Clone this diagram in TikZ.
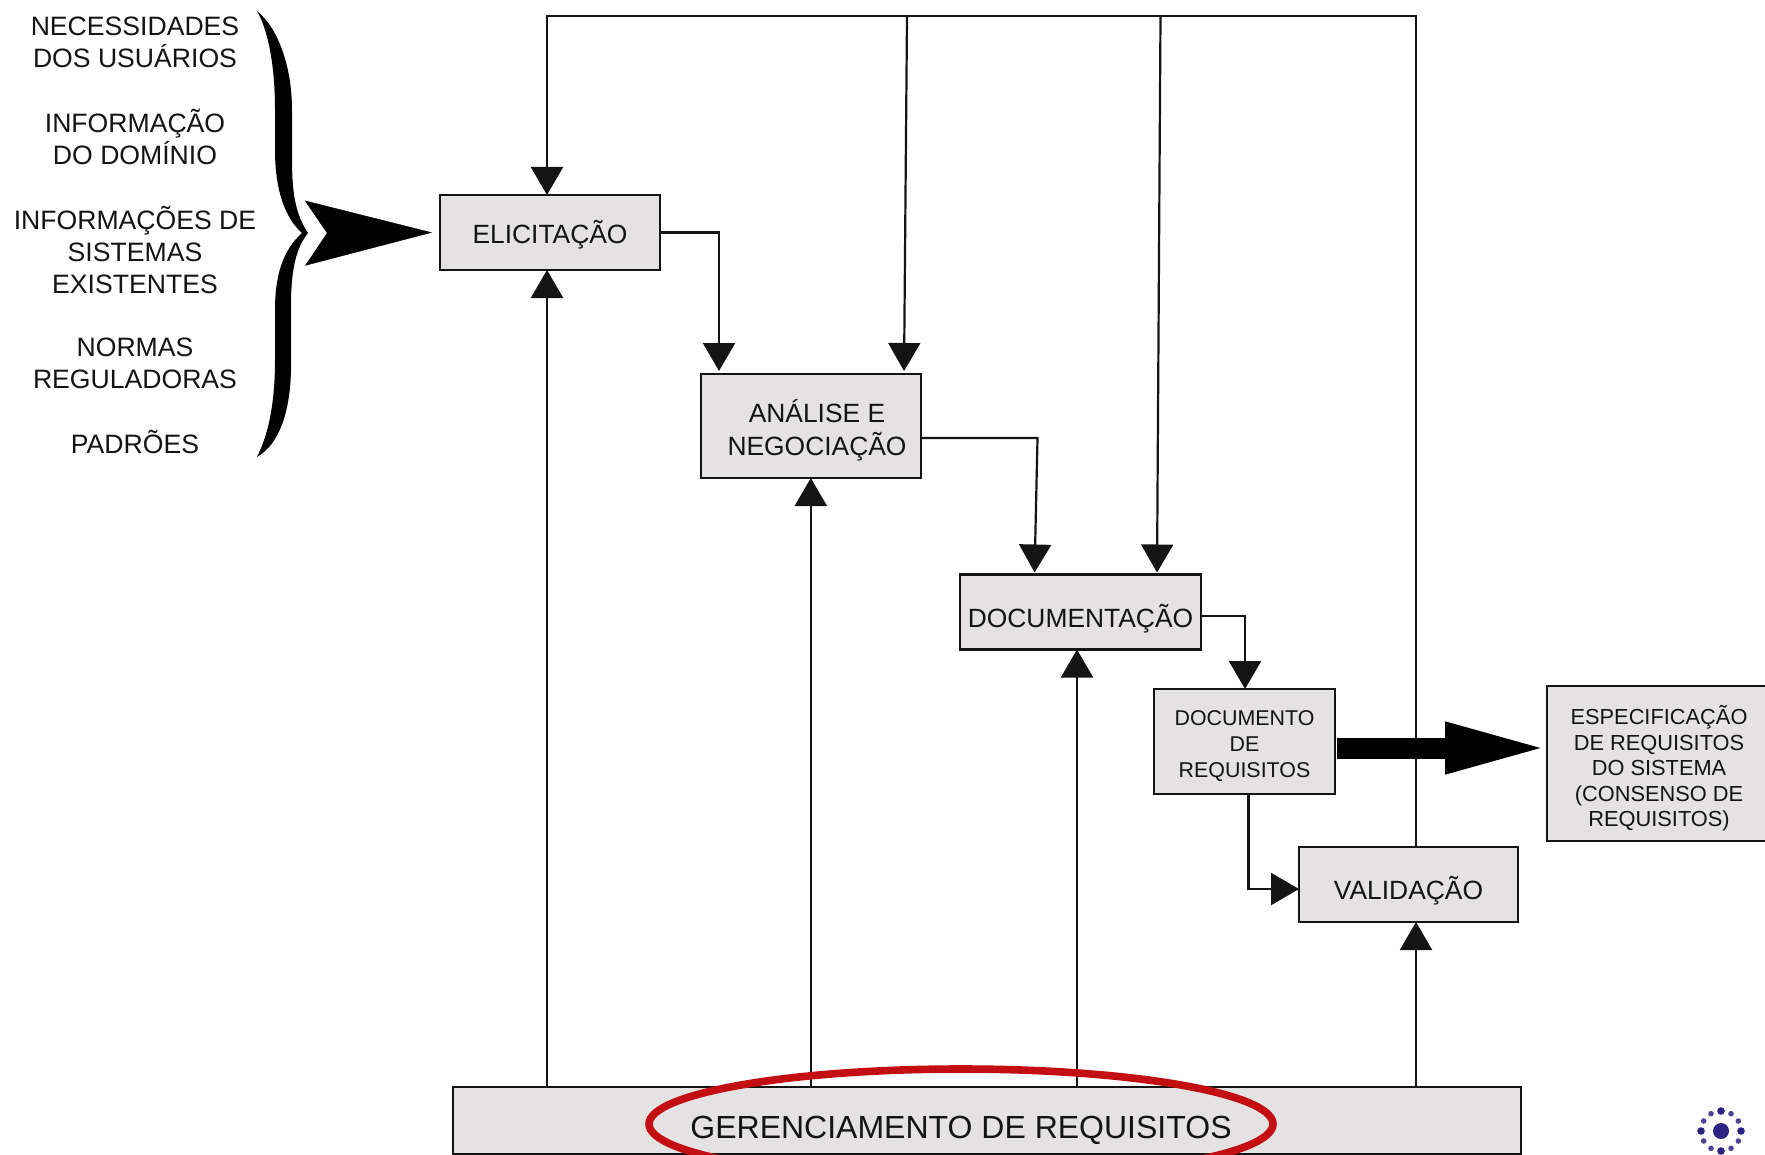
\documentclass[tikz,border=0pt]{standalone}
\usepackage{fontspec}
\setmainfont{Liberation Sans}
\usetikzlibrary{arrows.meta,shapes.geometric,calc}
\definecolor{boxfill}{HTML}{E4E2E2}
\definecolor{ink}{HTML}{141414}
\definecolor{ringred}{HTML}{C40F12}
\definecolor{logoblue}{HTML}{2A2480}
\newcommand\dn[2]{\raisebox{-#1}[\height][\depth]{\begin{tabular}{@{}c@{}}#2\end{tabular}}}
\tikzset{
  procbox/.style={draw=ink,fill=boxfill,line width=1.2pt,inner sep=0pt,outer sep=0pt,align=center,text=ink,
    font=\fontsize{13.2}{16}\selectfont},
  smallbox/.style={procbox,font=\fontsize{10.7}{13}\selectfont},
  specbox/.style={procbox,font=\fontsize{10.9}{12.8}\selectfont},
  source/.style={inner sep=0pt,outer sep=0pt,align=center,text=ink,font=\fontsize{13.3}{16}\selectfont},
  conn/.style={draw=ink,line width=1.1pt,-{Triangle[length=14pt,width=16pt]}},
  bigarrow/.style={draw=black,line width=10.5pt,-{Triangle[length=53pt,width=23pt]}},
  dart/.style={draw=black,line width=0.2pt,-{Stealth[length=63.5pt,width=32.5pt,inset=11pt]}},
  redring/.style={draw=ringred,line width=3.8pt,ellipse,inner sep=0pt,minimum width=312pt,minimum height=55pt},
}
\begin{document}
\begin{tikzpicture}[x=0.5pt,y=-0.5pt]
\useasboundingbox (0,0) rectangle (1765,1155);
\clip (0,0) rectangle (1765,1155);
\fill[white] (0,0) rectangle (1765,1155);

% source texts
\node[source] (s1) at (135,42.5) {NECESSIDADES\\DOS USUÁRIOS};
\node[source] (s2) at (135,137) {INFORMAÇÃO\\DO DOMÍNIO};
\node[source] (s3) at (135,249.5) {INFORMAÇÕES DE\\SISTEMAS\\EXISTENTES};
\node[source] (s4) at (135,363) {NORMAS\\REGULADORAS};
\node[source] (s5) at (135,442) {PADRÕES};

% brace
\fill[black] (257,11) .. controls (280,30) and (292,70) .. (292,110)
  -- (292,160) .. controls (292,195) and (296,215) .. (308,233)
  .. controls (296,248) and (291,270) .. (291,305)
  -- (291,370) .. controls (290,415) and (278,445) .. (257,457)
  .. controls (268,435) and (275,405) .. (275,360)
  -- (275,310) .. controls (275,275) and (283,250) .. (302,233)
  .. controls (285,218) and (275,190) .. (275,150)
  -- (275,110) .. controls (275,65) and (268,30) .. (257,11) -- cycle;

% boxes
\node[procbox,minimum width=110pt,minimum height=37.5pt] (elic) at (550,232.5) {\dn{2.2pt}{ELICITAÇÃO}};
\node[procbox,minimum width=110pt,minimum height=52pt] (ana) at (811,426) {\dn{3.3pt}{\hspace*{6pt}ANÁLISE E\\\hspace*{6pt}NEGOCIAÇÃO}};
\node[procbox,minimum width=120.5pt,minimum height=37.5pt] (docu) at (1080.5,612) {\dn{4.2pt}{DOCUMENTAÇÃO}};
\node[smallbox,minimum width=90.5pt,minimum height=52.5pt] (doc) at (1244.5,741.5) {\dn{2.5pt}{DOCUMENTO\\DE\\REQUISITOS}};
\node[procbox,minimum width=109.5pt,minimum height=37.5pt] (val) at (1408.5,884.5) {\dn{3.9pt}{VALIDAÇÃO}};
\node[specbox,minimum width=112pt,minimum height=77.5pt] (spec) at (1659,763.5) {\dn{3.2pt}{ESPECIFICAÇÃO\\DE REQUISITOS\\DO SISTEMA\\(CONSENSO DE\\REQUISITOS)}};
\node[procbox,minimum width=534pt,minimum height=33.5pt] (ger) at (987,1120.5) {};

% guide coordinates
\coordinate (tl) at (547,16);
\coordinate (tb) at (907,16);
\coordinate (tc) at (1160.5,16);
\coordinate (tr) at (1416,16);
\coordinate (xb) at (904,0);
\coordinate (xc) at (1157,0);
\coordinate (xa) at (719,0);
\coordinate (bendd) at (1037.5,438);
\coordinate (xd) at (1034.5,0);
\coordinate (xe) at (1245,0);
\coordinate (xf) at (1248.5,0);
\coordinate (xana) at (810.8,0);
\coordinate (xdoc) at (1077,0);
\coordinate (ydoc) at (0,748);
\coordinate (ya) at (0,438);
\coordinate (yb) at (0,616);
\coordinate (yf) at (0,889);
\coordinate (brc) at (332,233);

% feedback lines from validation
\draw[conn] (val.north -| tr) -- (tr) -- (tl) -- (elic.north -| tl);
\draw[conn,shorten >=1.5pt] (tb) -- (ana.north -| xb);
\draw[conn,shorten >=1pt] (tc) -- (docu.north -| xc);

% flow
\draw[conn,shorten >=1.5pt] (elic.east) -| (ana.north -| xa);
\draw[conn,shorten >=1pt] (ana.east |- ya) -- (bendd) -- (docu.north -| xd);
\draw[conn] (docu.east |- yb) -| (doc.north -| xe);
\draw[conn] (doc.south -| xf) |- (val.west |- yf);

% management lines
\draw[conn] (ger.north -| tl) -- (elic.south -| tl);
\draw[conn] (ger.north -| xana) -- (ana.south -| xana);
\draw[conn] (ger.north -| xdoc) -- (docu.south -| xdoc);
\draw[conn] (ger.north -| tr) -- (val.south -| tr);

% thick arrows
\draw[bigarrow,shorten <=1pt,shorten >=-2pt] (doc.east |- ydoc) -- (spec.west |- ydoc);
\draw[dart,shorten >=4pt] (brc) -- (elic.west);

% management label and ring
\node[redring] (ring) at (961,1124) {};
\node[inner sep=0pt,text=ink,font=\fontsize{16}{18}\selectfont] (gertxt) at (961,1130) {GERENCIAMENTO DE REQUISITOS};

% logo
\fill[logoblue] (1721,1131) circle (8);
\foreach \a in {0,90,180,270}{\fill[logoblue] ($(1721,1131)+(\a:20)$) circle (3.8);}
\foreach \a in {30,60,120,150,210,240,300,330}{\fill[logoblue!85] ($(1721,1131)+(\a:20)$) circle (2.8);}
\end{tikzpicture}
\end{document}
